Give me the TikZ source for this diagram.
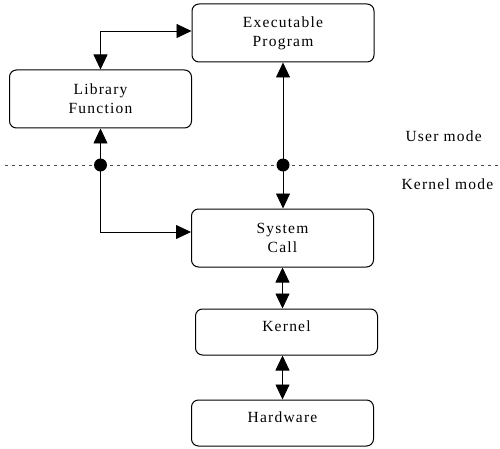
\documentclass[tikz,border=0pt]{standalone}
\usepackage{fontspec}
\setmainfont[LetterSpace=8]{Liberation Serif}
\usetikzlibrary{arrows.meta}

\tikzset{
  caja/.style={draw, line width=1pt, rounded corners=7pt, align=center,
    minimum width=182pt, minimum height=58pt, inner sep=0pt, font=\fontsize{15.5}{19}\selectfont},
  cajabaja/.style={caja, minimum height=46pt, text height=10pt, text depth=12pt},
  doble/.style={line width=0.8pt, {Triangle[length=15pt,width=14pt]}-{Triangle[length=15pt,width=14pt]}},
  modo/.style={anchor=west, font=\fontsize{15.5}{19}\selectfont}
}

\begin{document}
\begin{tikzpicture}[x=1pt, y=-1pt]

    \useasboundingbox (0,0) rectangle (500,449);

    % Cajas
    \node[caja] (exe) at (283, 33) {Executable\\Program};
    \node[caja] (lib) at (100.5, 99) {Library\\Function};
    \node[caja] (sys) at (282.5, 238) {System\\Call};
    \node[cajabaja] (ker) at (286.5, 332) {Kernel};
    \node[cajabaja] (hw) at (282.5, 423) {Hardware};

    % Separacion de modos
    \coordinate (sepL) at (5, 165);
    \coordinate (sepR) at (500, 165);
    \draw[gray!60!black, line width=0.9pt, dash pattern=on 2.5pt off 4.5pt] (sepL) -- (sepR);
    \node[modo] (user) at (402, 136) {User mode};
    \node[modo] (kmode) at (398, 184) {Kernel mode};

    % Conexiones
    \draw[doble] (exe.west |- 0,31) -| (lib.north);
    \draw[doble] (lib.south) |- ([yshift=6pt]sys.west);
    \draw[doble] (exe.south) -- (exe.south |- sys.north);
    \draw[doble] (sys.south) -- (sys.south |- ker.north);
    \draw[doble] (ker.south -| sys.south) -- (sys.south |- hw.north);

    % Puntos
    \fill (lib.south |- sepL) circle (6.5pt);
    \fill (exe.south |- sepL) circle (6.5pt);

  \end{tikzpicture}
\end{document}
